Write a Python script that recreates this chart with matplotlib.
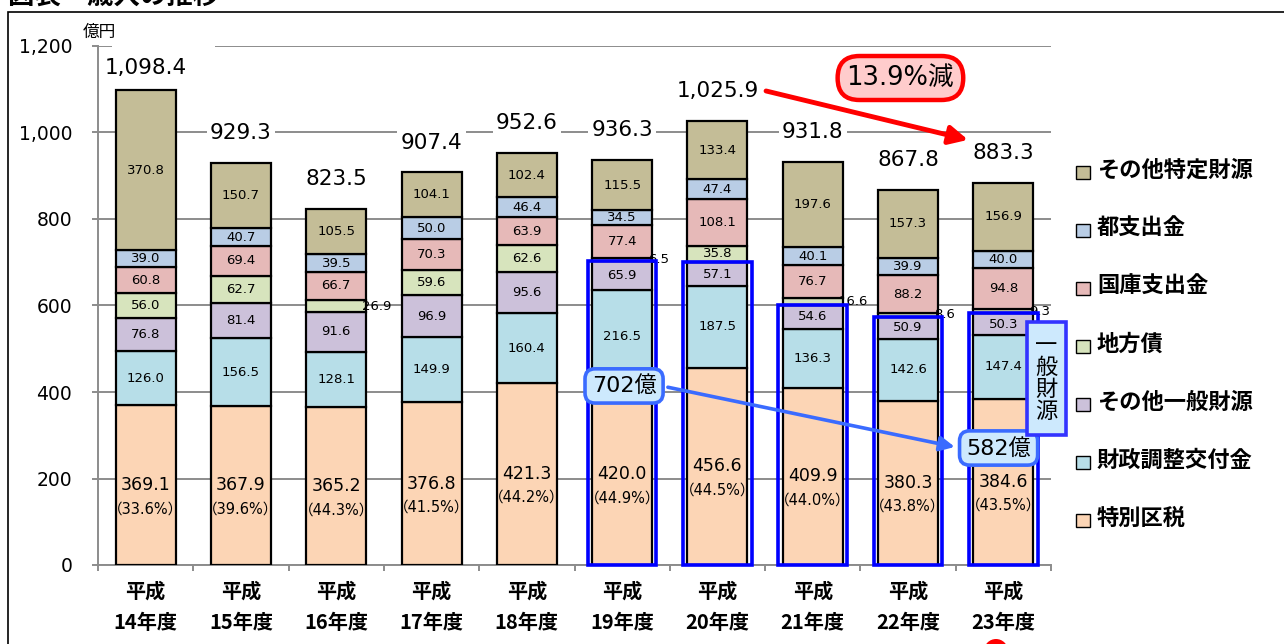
import matplotlib
matplotlib.use('Agg')
import matplotlib.pyplot as plt
from matplotlib.patches import Rectangle, Ellipse
from matplotlib.ticker import FuncFormatter, FixedLocator

plt.rcParams['font.family'] = ['DejaVu Sans', 'Noto Sans CJK JP']
CJK = ['Noto Sans CJK JP', 'DejaVu Sans']
LAT = ['DejaVu Sans', 'Noto Sans CJK JP']

# ---------------- data ----------------
years = ['14', '15', '16', '17', '18', '19', '20', '21', '22', '23']
categories = [f'平成\n{y}年度' for y in years]

series_names = ['特別区税', '財政調整交付金', 'その他一般財源', '地方債',
                '国庫支出金', '都支出金', 'その他特定財源']
tokubetsu_kuzei = [369.1, 367.9, 365.2, 376.8, 421.3, 420.0, 456.6, 409.9, 380.3, 384.6]
zaisei_chosei = [126.0, 156.5, 128.1, 149.9, 160.4, 216.5, 187.5, 136.3, 142.6, 147.4]
sonota_ippan = [76.8, 81.4, 91.6, 96.9, 95.6, 65.9, 57.1, 54.6, 50.9, 50.3]
chihousai = [56.0, 62.7, 26.9, 59.6, 62.6, 6.5, 35.8, 16.6, 8.6, 9.3]
kokko_shishutsu = [60.8, 69.4, 66.7, 70.3, 63.9, 77.4, 108.1, 76.7, 88.2, 94.8]
to_shishutsu = [39.0, 40.7, 39.5, 50.0, 46.4, 34.5, 47.4, 40.1, 39.9, 40.0]
sonota_tokutei = [370.8, 150.7, 105.5, 104.1, 102.4, 115.5, 133.4, 197.6, 157.3, 156.9]
totals = [1098.4, 929.3, 823.5, 907.4, 952.6, 936.3, 1025.9, 931.8, 867.8, 883.3]
kuzei_share = [33.6, 39.6, 44.3, 41.5, 44.2, 44.9, 44.5, 44.0, 43.8, 43.5]
highlight_years = ['19', '20', '21', '22', '23']
ippan_start_label = '702億'
ippan_end_label = '582億'
decrease_label = '13.9%減'

series = [tokubetsu_kuzei, zaisei_chosei, sonota_ippan, chihousai,
          kokko_shishutsu, to_shishutsu, sonota_tokutei]
colors = ['#fcd5b5', '#b7dee8', '#ccc1da', '#d7e4bd', '#e6b9b8', '#b9cde5', '#c4bd97']

# ---------------- figure ----------------
W, H = 1284, 644
fig = plt.figure(figsize=(W / 100, H / 100), dpi=100)
fig.patch.set_facecolor('white')
ax = fig.add_axes([98 / W, (H - 565) / H, 953 / W, 519 / H])

x = list(range(len(years)))
bw = 0.63
bottoms = [0.0] * len(years)
for k, (vals, col) in enumerate(zip(series, colors)):
    ax.bar(x, vals, width=bw, bottom=bottoms, color=col, edgecolor='black',
           linewidth=1.6, zorder=3)
    for i, v in enumerate(vals):
        c = bottoms[i] + v / 2
        if k == 0:
            ax.text(i, c, f'{v:.1f}', ha='center', va='center', fontsize=12.5, zorder=6)
            ax.annotate(f'（{kuzei_share[i]:.1f}%）', (i, c), xytext=(0, -17),
                        textcoords='offset points', ha='center', va='center',
                        fontsize=10.5, family=LAT, zorder=6)
        elif v >= 30:
            ax.text(i, c, f'{v:.1f}', ha='center', va='center', fontsize=9.5, zorder=6)
        else:
            ax.text(i + 0.27, c, f'{v:.1f}', ha='left', va='center', fontsize=9.5, zorder=4)
    bottoms = [b + v for b, v in zip(bottoms, vals)]

# totals
for i, t in enumerate(totals):
    off = 16 if t > 1050 else 21.5
    ax.annotate(f'{t:,.1f}', (i, t), xytext=(0, off), textcoords='offset points',
                ha='center', va='center', fontsize=15.5, zorder=7,
                bbox=dict(boxstyle='square,pad=0.15', fc='white', ec='none'))

# highlight rectangles (一般財源)
for yr in highlight_years:
    i = years.index(yr)
    top = tokubetsu_kuzei[i] + zaisei_chosei[i] + sonota_ippan[i]
    ax.add_patch(Rectangle((i - 0.36, 0), 0.72, top, fill=False, ec='#0000ff',
                           lw=2.6, zorder=5, clip_on=False))

# axes styling
ax.set_xlim(-0.5, len(years) - 0.5)
ax.set_ylim(0, 1200)
ax.set_yticks(range(0, 1201, 200))
ax.yaxis.set_major_formatter(FuncFormatter(lambda v, p: f'{int(v):,}'))
ax.yaxis.grid(True, color='#8c8c8c', lw=1.4)
ax.set_axisbelow(True)
for s in ['top', 'right']:
    ax.spines[s].set_visible(False)
for s in ['left', 'bottom']:
    ax.spines[s].set_color('#8c8c8c')
    ax.spines[s].set_linewidth(1.4)
ax.tick_params(axis='y', length=4.5, color='#8c8c8c', width=1.4, pad=14, labelsize=13.5)
ax.set_xticks(x)
ax.set_xticklabels(categories, family=CJK, fontsize=14.5, weight='bold', linespacing=1.65)
ax.tick_params(axis='x', which='major', length=0, pad=11)
ax.xaxis.set_minor_locator(FixedLocator([i - 0.5 for i in range(len(years) + 1)]))
ax.tick_params(axis='x', which='minor', length=4.5, color='#8c8c8c', width=1.4)

# gap in the top gridline
ax.add_patch(Rectangle((-0.353, 1188), 1.08, 25, fc='white', ec='none', zorder=1, clip_on=False))
ax.text(-0.49, 1232, '億円', ha='center', va='center', fontsize=12, family=CJK, clip_on=False)

# red annotation
ax.annotate('', xy=(8.63, 983), xytext=(6.51, 1096),
            arrowprops=dict(arrowstyle='-|>', mutation_scale=28, lw=3.5, color='#ff0000',
                            shrinkA=0, shrinkB=0), zorder=8, annotation_clip=False)
ax.text(7.92, 1126, decrease_label, ha='center', va='center', fontsize=18.5, family=LAT,
        zorder=9, bbox=dict(boxstyle='round,pad=0.35,rounding_size=0.85', fc='#ffcccc', ec='#ff0000', lw=3.2))

# blue annotation
ax.annotate('', xy=(8.49, 273), xytext=(5.48, 411),
            arrowprops=dict(arrowstyle='-|>', mutation_scale=22, lw=2.6, color='#3a6bff',
                            shrinkA=0, shrinkB=0), zorder=8, annotation_clip=False)
for (bx, by, lab) in [(5.02, 414, ippan_start_label), (8.95, 270.5, ippan_end_label)]:
    ax.text(bx, by, lab, ha='center', va='center', fontsize=16, family=LAT,
            zorder=9, bbox=dict(boxstyle='round,pad=0.3,rounding_size=0.45', fc='#cde9fd', ec='#3a6bff', lw=2.6))

# 一般財源 vertical box
ax.add_patch(Rectangle((9.248, 300.6), 0.409, 261.2, fc='#cde9fd', ec='#3333ff', lw=2.6,
                       zorder=9, clip_on=False))
ax.text(9.452, 431, '一\n般\n財\n源', ha='center', va='center', fontsize=16, family=CJK,
        linespacing=0.95, zorder=10, clip_on=False)

# legend (manual, top = last series)
for k, name in enumerate(reversed(series_names)):
    col = list(reversed(colors))[k]
    yc = 170 + 58 * k
    fig.add_artist(Rectangle((1076 / W, (H - yc - 9) / H), 14 / W, 13 / H,
                             transform=fig.transFigure, fc=col, ec='black', lw=1.0))
    fig.text(1097 / W, (H - yc) / H, name, ha='left', va='center', fontsize=16,
             weight='bold', family=CJK)

# frame, title and decorations
fig.add_artist(Rectangle((8 / W, -0.1), 2, (H - 12) / H + 0.1, transform=fig.transFigure,
                         fill=False, ec='black', lw=1.2))
fig.text(8 / W, (H - 11) / H, '図表　歳入の推移', ha='left', va='bottom', fontsize=19,
         weight='bold', family=CJK)
fig.add_artist(Ellipse((996 / W, -7 / H), 24 / W, 24 / H, transform=fig.transFigure,
                       fc='#ff0000', ec='none'))

fig.savefig('out.png', dpi=100)
